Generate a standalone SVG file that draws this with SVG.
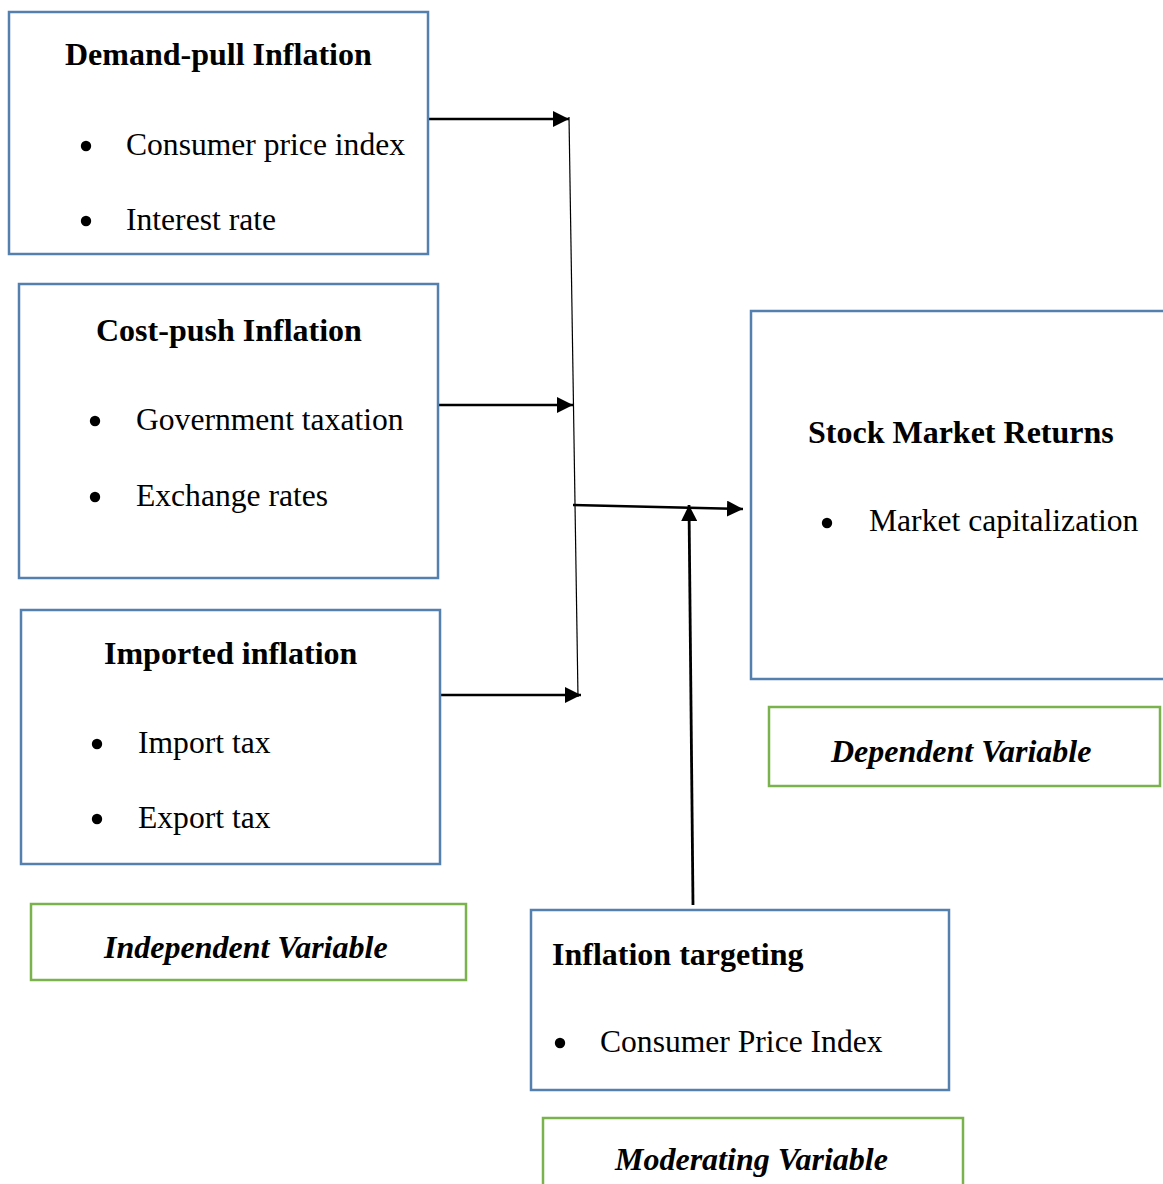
<svg xmlns="http://www.w3.org/2000/svg" width="1163" height="1184" viewBox="0 0 1163 1184">
<defs>
<style>
.box{fill:#fff;stroke:#5480b0;stroke-width:2.5}
.gbox{fill:#fff;stroke:#7ab24c;stroke-width:2.5}
.t{font-family:"Liberation Serif","Times New Roman",serif;font-size:31.6px;fill:#000}
.b{font-weight:bold;font-size:32px}
.bi{font-weight:bold;font-style:italic;font-size:32px}
.arr{stroke:#000;stroke-width:2.6;fill:none;marker-end:url(#ah)}
.thin{stroke:#000;stroke-width:1.2;fill:none}
</style>
<marker id="ah" markerUnits="userSpaceOnUse" markerWidth="16" markerHeight="16" viewBox="0 0 16 16" refX="16" refY="8" orient="auto">
<path d="M0,0 L16,8 L0,16 Z" fill="#000"/>
</marker>
</defs>
<rect width="1163" height="1184" fill="#fff"/>
<g id="connectors">
<line class="thin" x1="569" y1="117" x2="578" y2="697"/>
<line class="arr" x1="428" y1="119" x2="569" y2="119"/>
<line class="arr" x1="438" y1="405" x2="573" y2="405"/>
<line class="arr" x1="435" y1="695" x2="581" y2="695"/>
<line class="arr" x1="573" y1="505" x2="743" y2="509"/>
<line class="arr" x1="693" y1="905" x2="689" y2="505" style="stroke-width:2.8"/>
</g>
<g id="demand-pull">
<rect class="box" x="9" y="12" width="419" height="242"/>
<text class="t b" x="65" y="65">Demand-pull Inflation</text>
<circle cx="86" cy="146" r="5.2"/>
<text class="t" x="126" y="155">Consumer price index</text>
<circle cx="86" cy="221" r="5.2"/>
<text class="t" x="126" y="230">Interest rate</text>
</g>
<g id="cost-push">
<rect class="box" x="19" y="284" width="419" height="294"/>
<text class="t b" x="96" y="341">Cost-push Inflation</text>
<circle cx="95" cy="421" r="5.2"/>
<text class="t" x="136" y="430">Government taxation</text>
<circle cx="95" cy="497" r="5.2"/>
<text class="t" x="136" y="506">Exchange rates</text>
</g>
<g id="imported">
<rect class="box" x="21" y="610" width="419" height="254"/>
<text class="t b" x="104" y="664">Imported inflation</text>
<circle cx="97" cy="744" r="5.2"/>
<text class="t" x="138" y="753">Import tax</text>
<circle cx="97" cy="819" r="5.2"/>
<text class="t" x="138" y="828">Export tax</text>
</g>
<g id="independent-label">
<rect class="gbox" x="31" y="904" width="435" height="76"/>
<text class="t bi" x="104" y="958">Independent Variable</text>
</g>
<g id="stock-market">
<rect class="box" x="751" y="311" width="420" height="368"/>
<text class="t b" x="808" y="443">Stock Market Returns</text>
<circle cx="827" cy="523" r="5.2"/>
<text class="t" x="869" y="531">Market capitalization</text>
</g>
<g id="dependent-label">
<rect class="gbox" x="769" y="707" width="391" height="79"/>
<text class="t bi" x="831" y="762">Dependent Variable</text>
</g>
<g id="inflation-targeting">
<rect class="box" x="531" y="910" width="418" height="180"/>
<text class="t b" x="552" y="965">Inflation targeting</text>
<circle cx="560" cy="1043" r="5.2"/>
<text class="t" x="600" y="1052">Consumer Price Index</text>
</g>
<g id="moderating-label">
<rect class="gbox" x="543" y="1118" width="420" height="80"/>
<text class="t bi" x="615" y="1170">Moderating Variable</text>
</g>
</svg>
